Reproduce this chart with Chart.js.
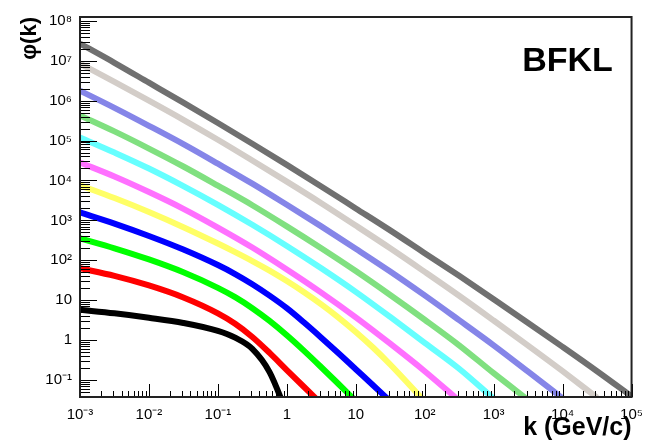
<!DOCTYPE html>
<html>
<head>
<meta charset="utf-8">
<script src="https://cdn.jsdelivr.net/npm/chart.js@4.4.1/dist/chart.umd.min.js"></script>
<style>
html,body{margin:0;padding:0;background:#fff;}
canvas{display:block;}
</style>
</head>
<body>
<canvas id="c" width="652" height="443"></canvas>
<script>
// shared k grid (GeV/c)
const kValues = [0.001, 0.00316, 0.01, 0.0316, 0.1, 0.178, 0.316, 0.562, 1, 1.78, 3.16, 5.62, 10, 17.8, 31.6, 100, 316, 1000, 3162, 10000, 31623, 100000];

// phi(k) curves (null = no reading at that k)
const phiBlack   = [5.75, 4.68, 3.63, 2.69, 1.70, 1.15, 0.603, 0.158, 0.0148];
const phiRed     = [63.1, 40.7, 23.4, 11.7, 4.68, 2.57, 1.20, 0.479, 0.178, 0.0668, 0.0257];
const phiGreen   = [355, 200, 105, 50.1, 20.4, 11.9, 6.31, 3.02, 1.32, 0.537, 0.209, 0.0794, 0.0299];
const phiBlue    = [1585, 832, 407, 186, 75.9, 45.2, 25.1, 13.0, 6.31, 2.75, 1.15, 0.468, 0.186, 0.0741, 0.0295];
const phiYellow  = [7586, 3631, 1622, 676, 263, 160, 95.5, 55.0, 30.2, 15.8, 7.85, 3.67, 1.60, 0.653, 0.245, 0.0292];
const phiMagenta = [28184, 12589, 5129, 1950, 661, null, 209, null, 58.9, null, 15.5, null, 3.72, null, 0.813, 0.166, 0.0302];
const phiCyan    = [120226, 50119, 19953, 7244, 2455, null, 776, null, 229, null, 63.1, null, 16.2, null, 3.80, 0.851, 0.191, 0.0339];
const phiLtGreen = [426580, 169824, 63096, 22387, 7413, null, 2399, null, 708, null, 200, null, 53.7, null, 13.5, 3.24, 0.741, 0.148, 0.0316];
const phiLavender= [1778279, 660693, 234423, 81283, 26303, null, 8318, null, 2455, null, 708, null, 195, null, 52.5, 13.2, 3.16, 0.741, 0.162, 0.0347];
const phiLtGray  = [8510000, 2950000, 1000000, 331131, 104713, null, 31623, null, 9333, null, 2692, null, 741, null, 200, 51.3, 12.9, 3.09, 0.724, 0.166, 0.0363];
const phiDkGray  = [26900000, 8910000, 2820000, 891251, 275423, null, 83176, null, 24547, null, 7079, null, 1995, null, 562, 151, 40.7, 10.5, 2.69, 0.676, 0.166, 0.0389];

const seriesList   = [phiBlack, phiRed, phiGreen, phiBlue, phiYellow, phiMagenta, phiCyan, phiLtGreen, phiLavender, phiLtGray, phiDkGray];
const seriesColors = ['#000000', '#ff0000', '#00ff00', '#0000ff', '#ffff66', '#ff70ff', '#66ffff', '#80e080', '#8585e8', '#d3cdc8', '#707070'];

// axis ticks
const xTickValues = [0.001, 0.01, 0.1, 1, 10, 100, 1000, 10000, 100000];
const xTickLabels = ['10\u207B\u00B3', '10\u207B\u00B2', '10\u207B\u00B9', '1', '10', '10\u00B2', '10\u00B3', '10\u2074', '10\u2075'];
const yTickValues = [0.1, 1, 10, 100, 1000, 10000, 100000, 1000000, 10000000, 100000000];
const yTickLabels = ['10\u207B\u00B9', '1', '10', '10\u00B2', '10\u00B3', '10\u2074', '10\u2075', '10\u2076', '10\u2077', '10\u2078'];

const FONT = "'Liberation Sans', Arial, Helvetica, sans-serif";

const datasets = seriesList.map((arr, i) => ({
  data: kValues.map((k, j) => ({x: k, y: arr[j]})).filter(p => p.y !== null && p.y !== undefined),
  borderColor: seriesColors[i],
  backgroundColor: seriesColors[i],
  borderWidth: 6,
  pointRadius: 0,
  fill: false,
  cubicInterpolationMode: 'monotone',
  clip: 0
}));

const rootAxes = {
  id: 'rootAxes',
  afterDatasetsDraw(chart) {
    const {ctx, chartArea: a, scales: {x, y}} = chart;
    ctx.save();
    ctx.strokeStyle = '#000';
    ctx.lineWidth = 1;
    ctx.beginPath();
    for (let e = -3; e <= 5; e++) {
      for (let m = 1; m <= 9; m++) {
        const v = m * Math.pow(10, e);
        if (v < x.min * 0.999 || v > x.max * 1.001) continue;
        const px = Math.round(x.getPixelForValue(v)) + 0.5;
        const len = m === 1 ? 13 : 6;
        ctx.moveTo(px, a.bottom);
        ctx.lineTo(px, a.bottom - len);
      }
    }
    for (let e = -2; e <= 8; e++) {
      for (let m = 1; m <= 9; m++) {
        const v = m * Math.pow(10, e);
        if (v < y.min || v > y.max) continue;
        const py = Math.round(y.getPixelForValue(v)) + 0.5;
        const len = m === 1 ? 17 : 10;
        ctx.moveTo(a.left, py);
        ctx.lineTo(a.left + len, py);
      }
    }
    ctx.stroke();
    // frame
    ctx.lineWidth = 2;
    ctx.strokeStyle = '#222';
    ctx.strokeRect(a.left, a.top, a.right - a.left, a.bottom - a.top);
    // label
    ctx.fillStyle = '#000';
    ctx.font = 'bold 34px ' + FONT;
    ctx.textAlign = 'center';
    ctx.textBaseline = 'middle';
    ctx.fillText('BFKL', a.right - 64, a.top + 45);
    ctx.restore();
  }
};

new Chart(document.getElementById('c'), {
  type: 'line',
  data: {datasets},
  options: {
    responsive: false,
    animation: false,
    devicePixelRatio: 1,
    layout: {padding: {top: 16, right: 15, left: 0, bottom: 0}},
    plugins: {legend: {display: false}, tooltip: {enabled: false}},
    scales: {
      x: {
        type: 'logarithmic',
        min: 0.001,
        max: 100000,
        afterBuildTicks: s => { s.ticks = xTickValues.map(v => ({value: v})); },
        afterFit: s => { s.height = 46; },
        ticks: {
          autoSkip: false, maxRotation: 0, padding: 9, color: '#000',
          font: {family: FONT, size: 15},
          callback: (v, i) => xTickLabels[i]
        },
        grid: {display: false, drawTicks: false},
        border: {display: false},
        title: {display: true, text: 'k (GeV/c)', align: 'end', color: '#000',
          font: {family: FONT, size: 25, weight: 'bold'}, padding: {top: 0, bottom: 0}}
      },
      y: {
        type: 'logarithmic',
        min: 0.0375,
        max: 125000000,
        afterBuildTicks: s => { s.ticks = yTickValues.map(v => ({value: v})); },
        afterFit: s => { s.width = 80; },
        ticks: {
          autoSkip: false, padding: 8, color: '#000',
          font: {family: FONT, size: 15},
          callback: (v, i) => yTickLabels[i]
        },
        grid: {display: false, drawTicks: false},
        border: {display: false},
        title: {display: true, text: '\u03C6(k)', align: 'end', color: '#000',
          font: {family: FONT, size: 22, weight: 'bold'}, padding: {top: 17, bottom: 0}}
      }
    }
  },
  plugins: [rootAxes]
});
</script>
</body>
</html>
